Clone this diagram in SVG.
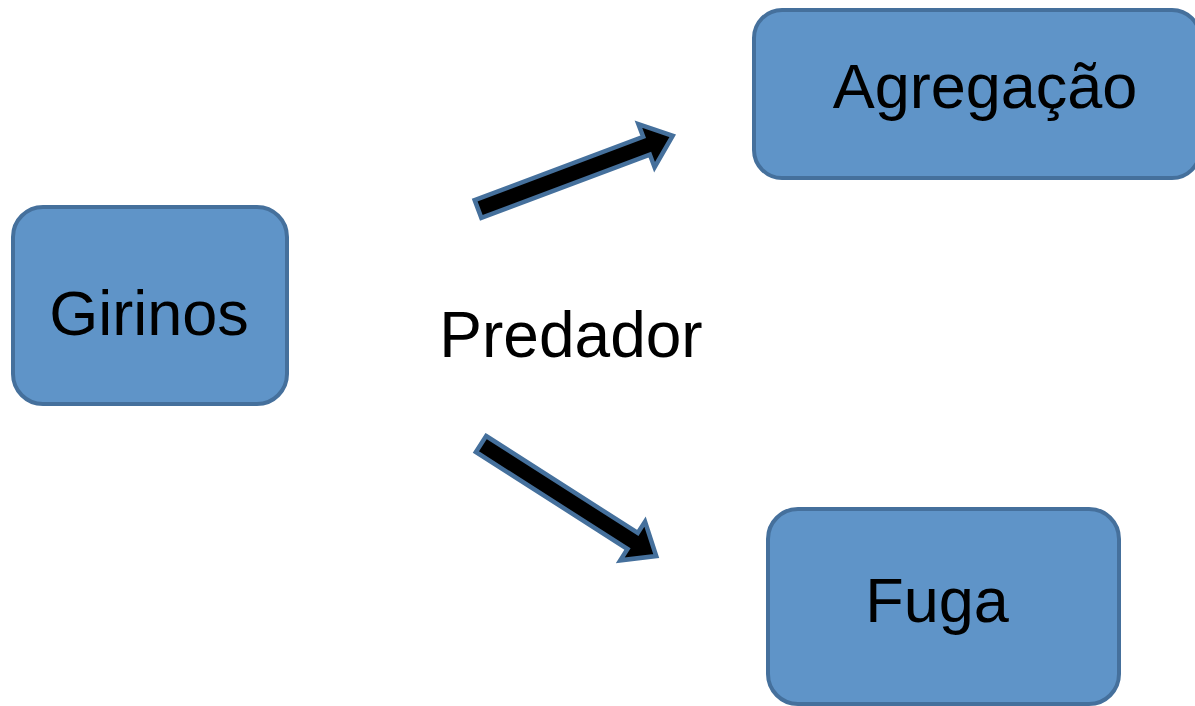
<svg xmlns="http://www.w3.org/2000/svg" width="1195" height="706" viewBox="0 0 1195 706">
<style>
.box{fill:#5F94C8;stroke:#45709C;stroke-width:4}
.lbl{font-family:"Liberation Sans",Arial,sans-serif;font-size:63px;fill:#000;text-anchor:middle}
.arr{fill:#000;stroke:#45709C;stroke-width:4.5;stroke-linejoin:miter}
</style>
<defs>
<path id="blockArrow" d="M0,-9.5 L180,-9.5 L180,-23 L208,0 L180,23 L180,9.5 L0,9.5 Z"/>
</defs>
<rect width="1195" height="706" fill="#fff"/>
<g id="girinos">
<rect class="box" x="13" y="207" width="274" height="197" rx="30"/>
<text class="lbl" x="149" y="335">Girinos</text>
</g>
<g id="agregacao">
<rect class="box" x="754" y="10" width="446" height="168" rx="28"/>
<text class="lbl" x="985" y="108">Agregação</text>
</g>
<g id="fuga">
<rect class="box" x="768" y="509" width="351" height="195" rx="30"/>
<text class="lbl" x="937" y="622">Fuga</text>
</g>
<g id="predador">
<text class="lbl" x="571" y="357" style="font-size:64px">Predador</text>
</g>
<g id="connectors">
<use href="#blockArrow" class="arr" transform="translate(478,209) rotate(-20.6)"/>
<use href="#blockArrow" class="arr" transform="translate(481,444) rotate(32.6)"/>
</g>
</svg>
